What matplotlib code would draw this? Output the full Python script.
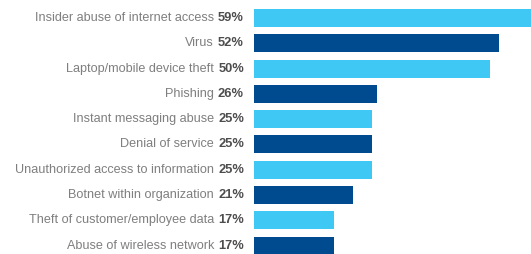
import matplotlib
matplotlib.use("Agg")
import matplotlib.pyplot as plt

# -------------------------------------------------
# Data
# -------------------------------------------------

categories = [
    "Insider abuse of internet access",
    "Virus",
    "Laptop/mobile device theft",
    "Phishing",
    "Instant messaging abuse",
    "Denial of service",
    "Unauthorized access to information",
    "Botnet within organization",
    "Theft of customer/employee data",
    "Abuse of wireless network",
]
percent = [59, 52, 50, 26, 25, 25, 25, 21, 17, 17]

LIGHT = "#40c8f4"
DARK = "#004a8f"
colors = [LIGHT if i % 2 == 0 else DARK for i in range(len(categories))]

# -------------------------------------------------
# Plot
# -------------------------------------------------

plt.rcParams["font.family"] = ["Liberation Sans", "DejaVu Sans"]

W, H = 531, 254
fig = plt.figure(figsize=(W / 100, H / 100), dpi=100)
ax = fig.add_axes([254 / W, 0, 1 - 254 / W, 1])

y = list(range(len(categories)))
ax.barh(y, percent, height=0.71, color=colors)
ax.set_xlim(0, 58.7)
ax.set_ylim(9.33, -0.71)
ax.axis("off")

for yi, name, val in zip(y, categories, percent):
    pct = ax.annotate(f"{val}%", xy=(0, yi), xytext=(-10, 0),
                      textcoords="offset pixels", ha="right", va="center",
                      fontsize=9.3, fontweight="bold", color="#4d4d4d",
                      annotation_clip=False)
    ax.annotate(name, xy=(0, 0.5), xycoords=pct, xytext=(-4, 0),
                textcoords="offset pixels", ha="right", va="center",
                fontsize=9.1, color="#7f7f7f", annotation_clip=False)

fig.savefig("out.png", dpi=100)
